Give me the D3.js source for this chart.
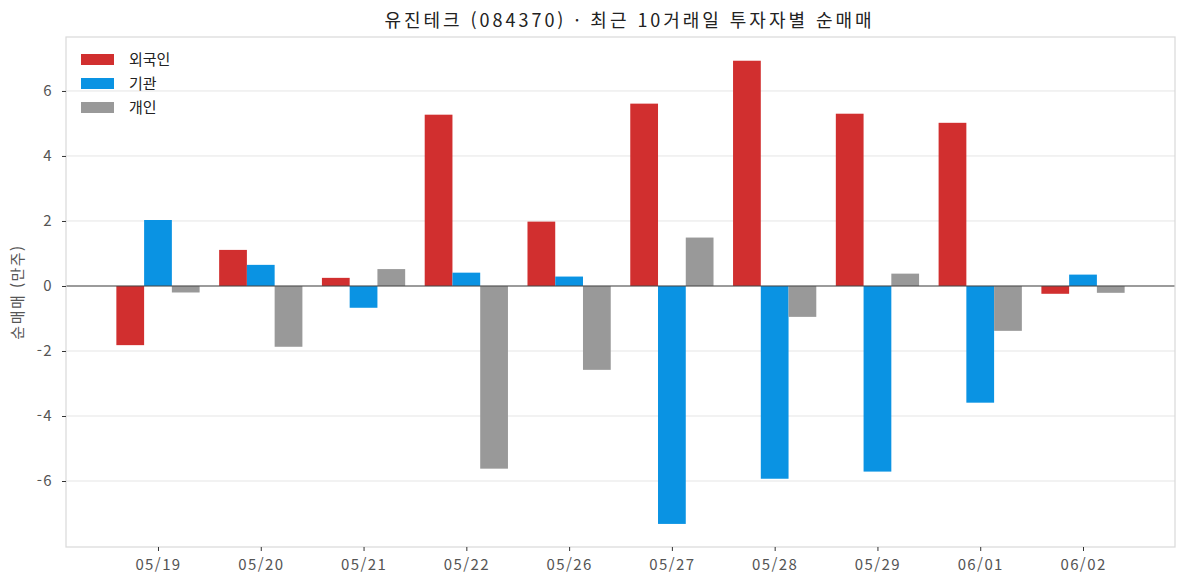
<!DOCTYPE html>
<html lang="ko">

<head>
  <meta charset="UTF-8">
  <title>유진테크 (084370) · 최근 10거래일 투자자별 순매매</title>
  <script src="https://d3js.org/d3.v7.min.js"></script>
  <style>
    body {
      margin: 0;
      background: #fff;
      font-family: "Noto Sans CJK KR", "Noto Sans", sans-serif;
    }

    .tick text {
      font-size: 15px;
      fill: #555;
      letter-spacing: 1.4px;
      font-family: "Noto Sans CJK KR", "Noto Sans", sans-serif;
    }

    .tick line {
      stroke: #333;
    }

    .domain {
      display: none;
    }
  </style>
</head>

<body>
  <div id="chart"></div>

  <script>
    // 데이터 (만주)
    const dates = ["05/19", "05/20", "05/21", "05/22", "05/26", "05/27", "05/28", "05/29", "06/01", "06/02"];
    const foreign = [-1.82, 1.11, 0.25, 5.27, 1.98, 5.61, 6.93, 5.30, 5.02, -0.24];
    const institution = [2.03, 0.65, -0.67, 0.41, 0.29, -7.32, -5.93, -5.71, -3.59, 0.35];
    const individual = [-0.20, -1.87, 0.52, -5.62, -2.58, 1.49, -0.95, 0.38, -1.38, -0.21];
    const yTicks = [-6, -4, -2, 0, 2, 4, 6];

    const series = [
      { name: "외국인", values: foreign, color: "#d12f2f", offset: -1 },
      { name: "기관", values: institution, color: "#0a93e3", offset: 0 },
      { name: "개인", values: individual, color: "#999999", offset: 1 }
    ];

    const W = 1187, H = 587;
    const margin = { top: 37, right: 12, bottom: 40, left: 66 };
    const width = W - margin.left - margin.right;
    const height = H - margin.top - margin.bottom;
    const barW = 0.27;

    const svg = d3.select("#chart").append("svg")
      .attr("width", W)
      .attr("height", H);

    svg.append("text")
      .attr("x", 628)
      .attr("y", 27)
      .attr("text-anchor", "middle")
      .attr("textLength", 487)
      .attr("lengthAdjust", "spacing")
      .style("font-size", "18px")
      .style("fill", "#222")
      .text("유진테크 (084370)  ·  최근 10거래일 투자자별 순매매");

    const g = svg.append("g")
      .attr("transform", `translate(${margin.left},${margin.top})`);

    const x = d3.scaleLinear()
      .domain([-0.895, dates.length - 1 + 0.895])
      .range([0, width]);

    const y = d3.scaleLinear()
      .domain([-8.03, 7.66])
      .range([height, 0]);

    // grid
    g.append("g")
      .selectAll("line")
      .data(yTicks)
      .enter().append("line")
      .attr("x1", 0)
      .attr("x2", width)
      .attr("y1", d => y(d))
      .attr("y2", d => y(d))
      .attr("stroke", "#e5e5e5")
      .attr("stroke-width", 1);

    // bars
    series.forEach(s => {
      g.append("g")
        .selectAll("rect")
        .data(s.values)
        .enter().append("rect")
        .attr("x", (d, i) => x(i + s.offset * barW - barW / 2))
        .attr("width", x(barW) - x(0))
        .attr("y", d => y(Math.max(0, d)))
        .attr("height", d => Math.abs(y(d) - y(0)))
        .attr("fill", s.color);
    });

    // zero line
    g.append("line")
      .attr("x1", 0)
      .attr("x2", width)
      .attr("y1", y(0))
      .attr("y2", y(0))
      .attr("stroke", "#444")
      .attr("stroke-width", 1.2);

    // frame
    g.append("rect")
      .attr("x", 0)
      .attr("y", 0)
      .attr("width", width)
      .attr("height", height)
      .attr("fill", "none")
      .attr("stroke", "#d9d9d9")
      .attr("stroke-width", 1.2);

    // axes
    g.append("g")
      .attr("transform", `translate(0,${height})`)
      .call(d3.axisBottom(x)
        .tickValues(d3.range(dates.length))
        .tickFormat(i => dates[i])
        .tickSize(4)
        .tickPadding(8));

    g.append("g")
      .call(d3.axisLeft(y)
        .tickValues(yTicks)
        .tickFormat(d => String(d))
        .tickSize(4)
        .tickPadding(9));

    svg.append("text")
      .attr("transform", `translate(23,${margin.top + height / 2}) rotate(-90)`)
      .attr("text-anchor", "middle")
      .style("font-size", "15px")
      .style("letter-spacing", "1.5px")
      .style("fill", "#555")
      .text("순매매 (만주)");

    // legend
    const legend = g.append("g")
      .attr("transform", "translate(15,17)");

    series.forEach((s, i) => {
      const row = legend.append("g")
        .attr("transform", `translate(0,${i * 24})`);
      row.append("rect")
        .attr("width", 33)
        .attr("height", 11)
        .attr("fill", s.color);
      row.append("text")
        .attr("x", 48)
        .attr("y", 11)
        .style("font-size", "15px")
        .style("fill", "#222")
        .text(s.name);
    });
  </script>
</body>

</html>
